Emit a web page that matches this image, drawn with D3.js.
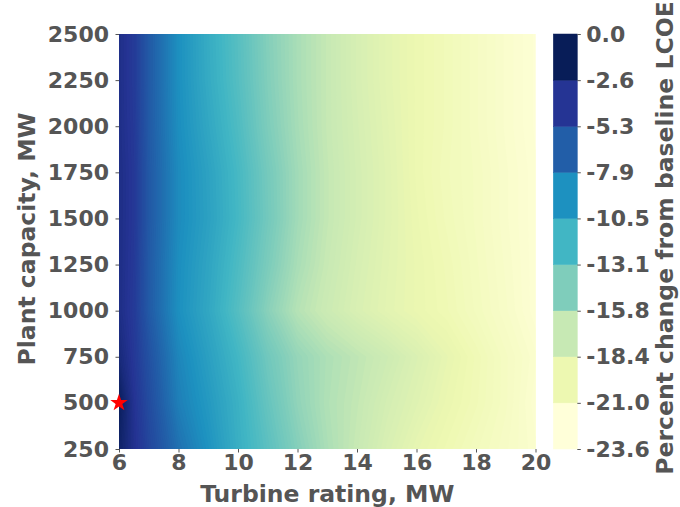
<!DOCTYPE html>
<html>
<head>
<meta charset="utf-8">
<script src="https://cdn.jsdelivr.net/npm/d3@7"></script>
<style>
  body { margin: 0; background: #fff; }
  svg text { font-family: "DejaVu Sans", sans-serif; font-weight: bold; fill: #555; }
</style>
</head>
<body>
<div id="chart"></div>
<script>
// Ejes de la malla: potencia de turbina (MW) y capacidad de planta (MW)
const turbine = [6, 6.5, 7, 8, 9, 10, 11, 12, 13, 14, 15, 16, 17, 18, 19, 20];
const capacity = [250, 500, 750, 1000, 1250, 1500, 1750, 2000, 2250, 2500];

// Cambio porcentual del LCOE, una fila por capacidad (250 -> 2500)
const lcoeChange = [
  [-0.8, -2.6, -4.2, -7.0, -9.0, -11.2, -13.1, -15.0, -16.6, -17.8, -19.1, -20.2, -20.9, -21.6, -22.2, -22.8],
  [-0.2, -2.8, -4.6, -7.8, -9.5, -11.4, -13.6, -15.5, -16.8, -17.6, -18.7, -19.6, -20.5, -21.2, -22.0, -23.0],
  [-1.6, -3.2, -5.0, -8.2, -10.0, -11.9, -14.1, -15.7, -16.7, -17.4, -18.2, -19.2, -20.2, -21.1, -22.0, -22.8],
  [-2.2, -3.4, -5.6, -8.8, -10.6, -12.8, -15.2, -17.0, -18.1, -19.1, -19.9, -20.5, -21.0, -21.7, -22.4, -23.2],
  [-2.2, -3.3, -5.6, -8.7, -10.4, -12.4, -14.6, -16.5, -17.8, -18.9, -19.8, -20.5, -21.1, -21.8, -22.5, -23.2],
  [-2.2, -3.2, -5.5, -8.5, -10.1, -12.0, -14.2, -16.2, -17.6, -18.7, -19.7, -20.6, -21.3, -21.9, -22.6, -23.2],
  [-2.2, -3.2, -5.5, -8.5, -10.2, -12.1, -14.3, -16.2, -17.6, -18.7, -19.7, -20.7, -21.4, -21.9, -22.6, -23.2],
  [-2.3, -3.3, -5.6, -8.7, -10.6, -12.5, -14.7, -16.4, -17.7, -18.8, -19.8, -20.7, -21.3, -22.0, -22.7, -23.3],
  [-2.3, -3.4, -5.6, -8.8, -10.9, -12.8, -14.9, -16.5, -17.7, -18.9, -19.9, -20.7, -21.3, -22.0, -22.7, -23.3],
  [-2.3, -3.4, -5.6, -8.8, -11.0, -12.9, -15.0, -16.5, -17.7, -18.9, -19.9, -20.7, -21.3, -22.0, -22.7, -23.3]
];

const xTicks = [6, 8, 10, 12, 14, 16, 18, 20];
const cbarLevels = [-23.65, -21.02, -18.39, -15.77, -13.14, -10.51, -7.88, -5.26, -2.63, 0];
const cbarLabels = ["-23.6", "-21.0", "-18.4", "-15.8", "-13.1", "-10.5", "-7.9", "-5.3", "-2.6", "0.0"];
const cbarColors = ["#ffffd9", "#edf8b1", "#c7e9b4", "#7fcdbb", "#41b6c4", "#1d91c0", "#225ea8", "#253494", "#081d58"];
const baseline = { turbine: 6, capacity: 500 };

// Configuración
const width = 680, height = 507;
const plot = { left: 119, right: 535.5, top: 34, bottom: 449 };
const cbar = { left: 553.3, width: 24 };
const tickFont = "22px";
const labelFont = "23.5px";

const svg = d3.select("#chart")
  .append("svg")
  .attr("width", width)
  .attr("height", height);

const x = d3.scaleLinear().domain([6, 20]).range([plot.left, plot.right]);
const y = d3.scaleLinear().domain([250, 2500]).range([plot.bottom, plot.top]);

// Mapa de color YlGnBu continuo entre los límites de la barra
const vmin = cbarLevels[0], vmax = cbarLevels[cbarLevels.length - 1];
const color = d3.scaleLinear()
  .domain(cbarColors.map((c, i) => vmin + i * (vmax - vmin) / (cbarColors.length - 1)))
  .range(cbarColors)
  .interpolate(d3.interpolateRgb)
  .clamp(true);

// Índices de la malla -> píxeles
const gx = d3.scaleLinear().domain(turbine.map((d, i) => i + 0.5)).range(turbine.map(d => x(d)));
const gy = d3.scaleLinear().domain(capacity.map((d, j) => j + 0.5)).range(capacity.map(d => y(d)));
const path = d3.geoPath(d3.geoTransform({
  point(px, py) { this.stream.point(gx(px), gy(py)); }
}));

const step = 0.2;
const contours = d3.contours()
  .size([turbine.length, capacity.length])
  .thresholds(d3.range(vmin, vmax, step))(lcoeChange.flat());

svg.append("clipPath").attr("id", "clip")
  .append("rect")
  .attr("x", plot.left).attr("y", plot.top)
  .attr("width", plot.right - plot.left).attr("height", plot.bottom - plot.top);

svg.append("g")
  .attr("clip-path", "url(#clip)")
  .selectAll("path")
  .data(contours)
  .join("path")
  .attr("d", path)
  .attr("fill", d => color(d.value + step / 2));

// Ejes
function styleAxis(g) {
  g.select(".domain").remove();
  g.style("color", "#555");
  g.selectAll(".tick line").attr("stroke-width", 1);
  g.selectAll("text").style("font-size", tickFont);
}

svg.append("g")
  .attr("transform", `translate(${plot.left},0)`)
  .call(d3.axisLeft(y).tickValues(capacity).tickFormat(d3.format("d")).tickSize(3.5).tickPadding(6.5))
  .call(styleAxis);

svg.append("g")
  .attr("transform", `translate(0,${plot.bottom})`)
  .call(d3.axisBottom(x).tickValues(xTicks).tickFormat(d3.format("d")).tickSize(3.5).tickPadding(2))
  .call(styleAxis);

svg.append("text")
  .attr("x", (plot.left + plot.right) / 2)
  .attr("y", 502)
  .attr("text-anchor", "middle")
  .style("font-size", labelFont)
  .text("Turbine rating, MW");

svg.append("text")
  .attr("transform", "translate(35,239) rotate(-90)")
  .attr("text-anchor", "middle")
  .style("font-size", labelFont)
  .text("Plant capacity, MW");

// Punto base
svg.append("path")
  .attr("transform", `translate(${x(baseline.turbine)},${y(baseline.capacity)})`)
  .attr("d", d3.symbol(d3.symbolStar, 95)())
  .attr("fill", "#ff0000");

// Barra de color discreta
const cy = d3.scaleLinear().domain([vmin, vmax]).range([plot.bottom, plot.top]);

svg.append("g")
  .selectAll("rect")
  .data(cbarColors)
  .join("rect")
  .attr("x", cbar.left)
  .attr("width", cbar.width)
  .attr("y", (d, i) => cy(cbarLevels[i + 1]))
  .attr("height", (d, i) => cy(cbarLevels[i]) - cy(cbarLevels[i + 1]))
  .attr("fill", d => d)
  .attr("stroke", d => d)
  .attr("stroke-width", 0.5);

svg.append("g")
  .attr("transform", `translate(${cbar.left + cbar.width},0)`)
  .call(d3.axisRight(cy).tickValues(cbarLevels).tickFormat((d, i) => cbarLabels[i]).tickSize(3.5).tickPadding(5.5))
  .call(styleAxis);

svg.append("text")
  .attr("transform", "translate(673,238) rotate(-90)")
  .attr("text-anchor", "middle")
  .style("font-size", labelFont)
  .text("Percent change from baseline LCOE");
</script>
</body>
</html>
